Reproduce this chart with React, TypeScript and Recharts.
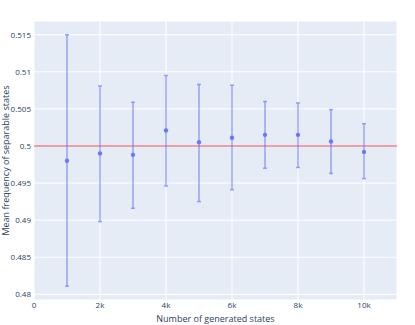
import React from 'react';
import { ComposedChart, Scatter, XAxis, YAxis, CartesianGrid, ErrorBar, ReferenceLine, Label } from 'recharts';

const xValues = [1000, 2000, 3000, 4000, 5000, 6000, 7000, 8000, 9000, 10000];
const means = [0.498, 0.499, 0.4988, 0.5021, 0.5005, 0.5011, 0.5015, 0.5015, 0.5006, 0.4992];
const uppers = [0.515, 0.5081, 0.5059, 0.5095, 0.5083, 0.5082, 0.506, 0.5058, 0.5049, 0.503];
const lowers = [0.4811, 0.4898, 0.4916, 0.4946, 0.4925, 0.4941, 0.497, 0.4971, 0.4963, 0.4956];
const xTicks = [0, 2000, 4000, 6000, 8000, 10000];
const yTicks = [0.48, 0.485, 0.49, 0.495, 0.5, 0.505, 0.51, 0.515];
const referenceValue = 0.5;

const data = xValues.map((x, i) => ({
  x,
  y: means[i],
  err: [means[i] - lowers[i], uppers[i] - means[i]],
}));

const FONT = '"Open Sans", sans-serif';
const TEXT = '#2a3f5f';

export default function App() {
  return (
    <div style={{ position: 'absolute', left: 0, top: 0 }}>
      <ComposedChart width={415} height={325} data={data} margin={{ top: 21, right: 18, left: 0, bottom: 0 }}>
        <CartesianGrid stroke="#ffffff" strokeWidth={1} fill="#e5ecf6" />
        <XAxis
          type="number"
          dataKey="x"
          domain={[0, 11000]}
          ticks={xTicks}
          tickFormatter={(v: number) => (v === 0 ? '0' : `${v / 1000}k`)}
          height={25}
          axisLine={false}
          tickLine={false}
          tickSize={0}
          tickMargin={2}
          tick={{ fill: TEXT, fontSize: 8, fontFamily: FONT }}
        >
          <Label
            content={(props: any) => {
              const vb = props.viewBox;
              return (
                <text x={vb.x + vb.width / 2} y={318} textAnchor="middle" dominantBaseline="central" fill={TEXT} fontSize={9} fontFamily={FONT}>
                  Number of generated states
                </text>
              );
            }}
          />
        </XAxis>
        <YAxis
          type="number"
          domain={[0.47923, 0.51685]}
          ticks={yTicks}
          tickFormatter={(v: number) => String(+v.toFixed(3))}
          width={34}
          axisLine={false}
          tickLine={false}
          tickSize={0}
          tickMargin={3}
          allowDataOverflow
          tick={{ fill: TEXT, fontSize: 8, fontFamily: FONT }}
        >
          <Label
            content={() => (
              <text x={5.5} y={160.5} transform="rotate(-90 5.5 160.5)" textAnchor="middle" dominantBaseline="central" fill={TEXT} fontSize={9} fontFamily={FONT}>
                Mean frequency of separable states
              </text>
            )}
          />
        </YAxis>
        <ReferenceLine y={referenceValue} stroke="#ee8388" strokeWidth={1.5} />
        <Scatter
          dataKey="y"
          isAnimationActive={false}
          fill="#636efa"
          shape={(p: any) => <circle cx={p.cx} cy={p.cy} r={2.2} fill="#636efa" fillOpacity={0.9} />}
        >
          <ErrorBar dataKey="err" direction="y" width={2} stroke="#636efa" strokeOpacity={0.6} strokeWidth={1.5} />
        </Scatter>
      </ComposedChart>
    </div>
  );
}
